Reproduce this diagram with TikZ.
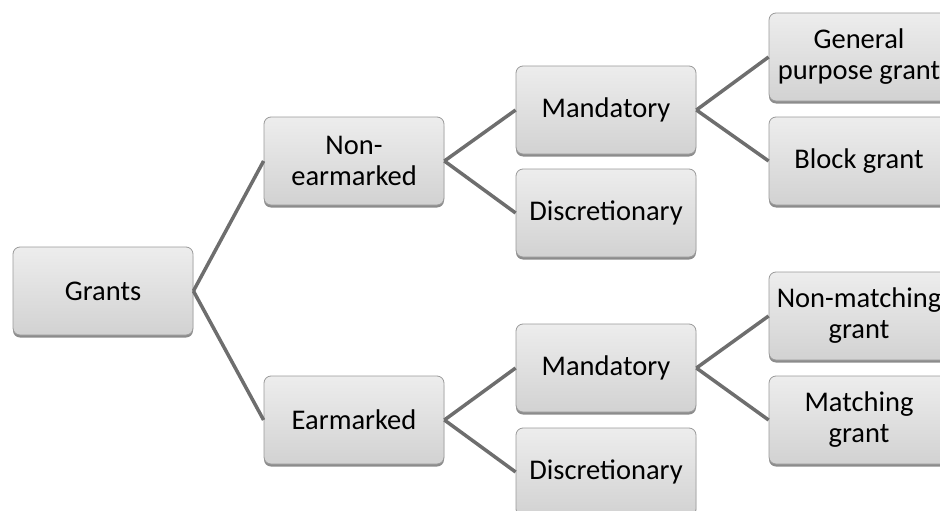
\documentclass[tikz,border=0pt]{standalone}
\usepackage{fontspec}
\setmainfont{Carlito}
\usepackage{tikz}
\usetikzlibrary{shadows}

\definecolor{boxtop}{HTML}{EDEDED}
\definecolor{boxbottom}{HTML}{D2D2D2}
\definecolor{boxline}{HTML}{9A9A9A}
\definecolor{linkgray}{HTML}{6E6E6E}

\tikzset{
    grant/.style={rectangle, rounded corners=7pt, draw=boxline, line width=0.8pt,
        top color=boxtop, bottom color=boxbottom,
        minimum width=180pt, minimum height=88pt, inner sep=0pt, align=center,
        font=\fontsize{28.5}{31}\selectfont,
        drop shadow={shadow xshift=0pt, shadow yshift=-2.5pt, opacity=0.45, fill=black}},
    link/.style={draw=linkgray, line width=3.5pt}
}

\begin{document}
\begin{tikzpicture}[x=1pt, y=-1pt]

    \useasboundingbox (0,0) rectangle (940,511);
    \clip (0,0) rectangle (940,511);

    \node[grant] (grants) at (103,291) {Grants};

    \node[grant] (nonear) at (354,161) {Non-\\earmarked};
    \node[grant] (ear) at (354,420) {Earmarked};

    \node[grant] (mand1) at (606,110) {Mandatory};
    \node[grant] (disc1) at (606,213) {Discretionary};
    \node[grant] (mand2) at (606,368) {Mandatory};
    \node[grant] (disc2) at (606,472) {Discretionary};

    \node[grant] (general) at (859,57) {General\\purpose grant};
    \node[grant] (block) at (859,161) {Block grant};
    \node[grant] (nonmatch) at (859,316) {Non-matching\\grant};
    \node[grant] (match) at (859,420) {Matching\\grant};

    \draw[link] (grants.east) -- (nonear.west);
    \draw[link] (grants.east) -- (ear.west);

    \draw[link] (nonear.east) -- (mand1.west);
    \draw[link] (nonear.east) -- (disc1.west);
    \draw[link] (ear.east) -- (mand2.west);
    \draw[link] (ear.east) -- (disc2.west);

    \draw[link] (mand1.east) -- (general.west);
    \draw[link] (mand1.east) -- (block.west);
    \draw[link] (mand2.east) -- (nonmatch.west);
    \draw[link] (mand2.east) -- (match.west);

\end{tikzpicture}
\end{document}
